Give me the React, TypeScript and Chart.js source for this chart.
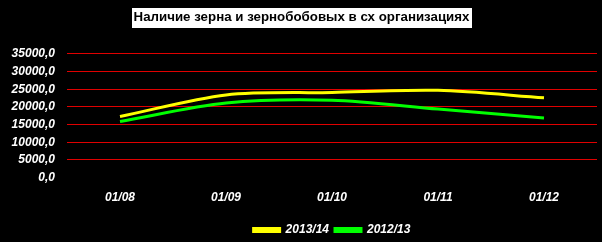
import React, { useEffect, useRef } from "react";
import { Chart, registerables } from "chart.js";

Chart.register(...registerables);

const TITLE = "Наличие зерна и зернобобовых в сх организациях";
const categories = ["01/08", "01/09", "01/10", "01/11", "01/12"];
const series2013 = [17300, 23400, 24100, 24700, 22600];
const series2012 = [15900, 21100, 21900, 19400, 16900];
const seriesLabels = ["2013/14", "2012/13"];
const yMax = 35000;
const yStep = 5000;

const FONT = "'Liberation Sans', Arial, sans-serif";
const TITLE_SIZE = 13.3;

const titleBg = {
  id: "titleBg",
  beforeDraw(chart: any) {
    const { ctx } = chart;
    ctx.save();
    ctx.fillStyle = "#000000";
    ctx.fillRect(0, 0, chart.width, chart.height);
    const tb = chart.titleBlock;
    if (tb) {
      const opts = chart.options.plugins.title;
      ctx.font = `bold ${TITLE_SIZE}px ${FONT}`;
      const w = ctx.measureText(TITLE).width;
      const cx = (tb.left + tb.right) / 2;
      const cy = tb.top + opts.padding.top + (TITLE_SIZE * 1.2) / 2;
      ctx.fillStyle = "#ffffff";
      ctx.fillRect(Math.round(cx - w / 2 - 2), Math.round(cy - 9), Math.round(w + 4), 20);
    }
    ctx.restore();
  },
};

export default function App() {
  const ref = useRef<HTMLCanvasElement>(null);
  useEffect(() => {
    document.body.style.margin = "0";
    document.body.style.background = "#000";
    const tickFont = { family: FONT, size: 12, weight: "bold" as const, style: "italic" as const };
    const chart = new Chart(ref.current!, {
      type: "line",
      data: {
        labels: categories,
        datasets: [
          {
            label: seriesLabels[0],
            data: series2013,
            borderColor: "#ffff00",
            backgroundColor: "#ffff00",
            borderWidth: 3,
            pointRadius: 0,
            tension: 0.3,
          },
          {
            label: seriesLabels[1],
            data: series2012,
            borderColor: "#00ff00",
            backgroundColor: "#00ff00",
            borderWidth: 3,
            pointRadius: 0,
            tension: 0.3,
          },
        ],
      },
      options: {
        animation: false,
        responsive: false,
        layout: { padding: { top: 0, right: 5, bottom: -4, left: 6 } },
        plugins: {
          title: {
            display: true,
            text: TITLE,
            color: "#000000",
            font: { family: FONT, size: TITLE_SIZE, weight: "bold" },
            padding: { top: 9, bottom: 29 },
          },
          legend: {
            display: true,
            position: "bottom",
            fullSize: false,
            labels: {
              color: "#ffffff",
              boxWidth: 26,
              boxHeight: 3,
              padding: 6,
              font: tickFont,
            },
          },
          tooltip: { enabled: false },
        },
        scales: {
          x: {
            offset: true,
            grid: { display: false, drawTicks: false },
            border: { display: false },
            ticks: {
              color: "#ffffff",
              padding: 13,
              maxRotation: 0,
              font: tickFont,
            },
          },
          y: {
            min: 0,
            max: yMax,
            afterFit(scale: any) {
              scale.width = 61;
            },
            grid: {
              drawTicks: false,
              color: (c: any) => (c.tick && c.tick.value === 0 ? "rgba(0,0,0,0)" : "#e00000"),
              lineWidth: 1,
            },
            border: { display: false },
            ticks: {
              stepSize: yStep,
              color: "#ffffff",
              padding: 12,
              callback: (v: any) => Number(v).toFixed(1).replace(".", ","),
              font: tickFont,
            },
          },
        },
      },
      plugins: [titleBg],
    });
    return () => chart.destroy();
  }, []);
  return <canvas ref={ref} width={602} height={242} style={{ display: "block" }} />;
}
